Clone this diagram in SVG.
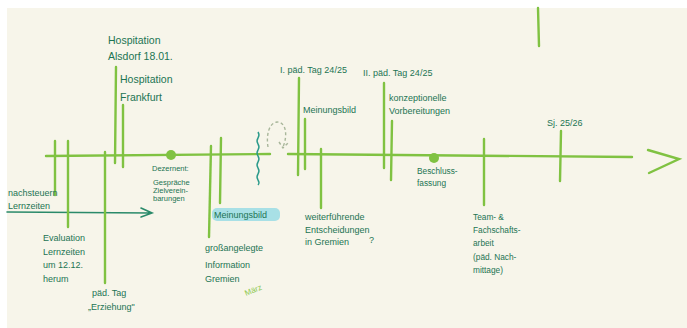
<svg xmlns="http://www.w3.org/2000/svg" width="687" height="328" viewBox="0 0 687 328">
<defs>
<style>
.ln{stroke:#80c242;stroke-width:2.4;fill:none;stroke-linecap:round}
.t{font-family:"Liberation Sans","DejaVu Sans",sans-serif;fill:#1c7453;font-size:9px}
.s{font-size:7.5px}
.s2{font-size:8.3px}
.m{font-size:10.5px}
</style>
</defs>
<rect width="687" height="328" fill="#ffffff"/>
<rect x="7" y="8" width="680" height="320" fill="#f7f5ea"/>
<g id="connectors">
<path class="ln" d="M46 156 L270 154"/>
<path class="ln" d="M288 154 L632 157"/>
<path class="ln" d="M648 150 L679 159 L649 173"/>
<path class="ln" d="M538 8 L539 46"/>
<path d="M7 212 L151 213 M141 208 L152 213 L141 217" stroke="#2a8a6a" stroke-width="1.6" fill="none" stroke-linecap="round"/>
<path d="M258 132 q2 3 0 6 q-2 3 0 6 q2 3 0 6 q-2 3 0 6 q2 3 0 6 q-2 3 0 6 q2 3 0 6 q-2 3 0 6 q2 3 0 5" stroke="#2a9a8a" stroke-width="1.4" fill="none"/>
<path d="M268 147 C266 135 269 123 277 122 C286 122 288 135 283 147 M279 142 L283 148 L288 143" stroke="#a8b69a" stroke-width="1.4" stroke-dasharray="3 2.5" fill="none"/>
</g>
<g id="ticks">
<path class="ln" d="M55 141 L55 195"/>
<path class="ln" d="M68 141 L68 227"/>
<path class="ln" d="M105 152 L105 283"/>
<path class="ln" d="M116 67 L115 163"/>
<path class="ln" d="M123 105 L123 167"/>
<path class="ln" d="M211 146 L209 237"/>
<path class="ln" d="M221 138 L220 203"/>
<path class="ln" d="M299 78 L298 175"/>
<path class="ln" d="M305 119 L305 169"/>
<path class="ln" d="M321 149 L321 208"/>
<path class="ln" d="M384 83 L384 168"/>
<path class="ln" d="M392 121 L391 180"/>
<path class="ln" d="M484 139 L484 205"/>
<path class="ln" d="M561 131 L560 181"/>
<circle cx="171" cy="155" r="5" fill="#80c242"/>
<circle cx="434" cy="158" r="5" fill="#80c242"/>
</g>
<g id="n-hosp-alsdorf"><text class="t m" x="108" y="44">Hospitation</text><text class="t m" x="108" y="60">Alsdorf 18.01.</text></g>
<g id="n-hosp-frankfurt"><text class="t m" x="120" y="83">Hospitation</text><text class="t m" x="120" y="101">Frankfurt</text></g>
<g id="n-nachsteuern"><text class="t" x="8" y="196">nachsteuern</text><text class="t" x="8" y="209">Lernzeiten</text></g>
<g id="n-evaluation"><text class="t" x="43" y="241">Evaluation</text><text class="t" x="43" y="255">Lernzeiten</text><text class="t" x="43" y="268">um 12.12.</text><text class="t" x="43" y="282">herum</text></g>
<g id="n-paedtag"><text class="t" x="92" y="296">päd. Tag</text><text class="t" x="88" y="310">„Erziehung"</text></g>
<g id="n-dezernent"><text class="t s" x="152" y="171">Dezernent:</text><text class="t s" x="153" y="185">Gespräche</text><text class="t s" x="153" y="193">Zielverein-</text><text class="t s" x="153" y="201">barungen</text></g>
<g id="n-meinungsbild1"><rect x="212" y="208" width="68" height="13" rx="5" fill="#a8e0e6"/><text class="t" x="214" y="218">Meinungsbild</text></g>
<g id="n-information"><text class="t" x="205" y="251">großangelegte</text><text class="t" x="205" y="268">Information</text><text class="t" x="205" y="282">Gremien</text><text x="246" y="296" transform="rotate(-22 246 296)" font-family="Liberation Sans,sans-serif" font-size="8" fill="#8cc850">März</text></g>
<g id="n-paedtag1"><text class="t" x="280" y="73">I. päd. Tag 24/25</text></g>
<g id="n-meinungsbild2"><text class="t" x="303" y="113">Meinungsbild</text></g>
<g id="n-weiter"><text class="t" x="305" y="220">weiterführende</text><text class="t" x="305" y="233">Entscheidungen</text><text class="t" x="305" y="245">in Gremien</text><text class="t" x="369" y="243">?</text></g>
<g id="n-paedtag2"><text class="t" x="363" y="76">II. päd. Tag 24/25</text></g>
<g id="n-konzept"><text class="t" x="389" y="101">konzeptionelle</text><text class="t" x="389" y="114">Vorbereitungen</text></g>
<g id="n-beschluss"><text class="t s2" x="417" y="174">Beschluss-</text><text class="t s2" x="417" y="186">fassung</text></g>
<g id="n-sj"><text class="t" x="547" y="126">Sj. 25/26</text></g>
<g id="n-team"><text class="t s2" x="473" y="220">Team- &amp;</text><text class="t s2" x="473" y="233">Fachschafts-</text><text class="t s2" x="473" y="246">arbeit</text><text class="t s2" x="473" y="260">(päd. Nach-</text><text class="t s2" x="473" y="273">mittage)</text></g>
</svg>
